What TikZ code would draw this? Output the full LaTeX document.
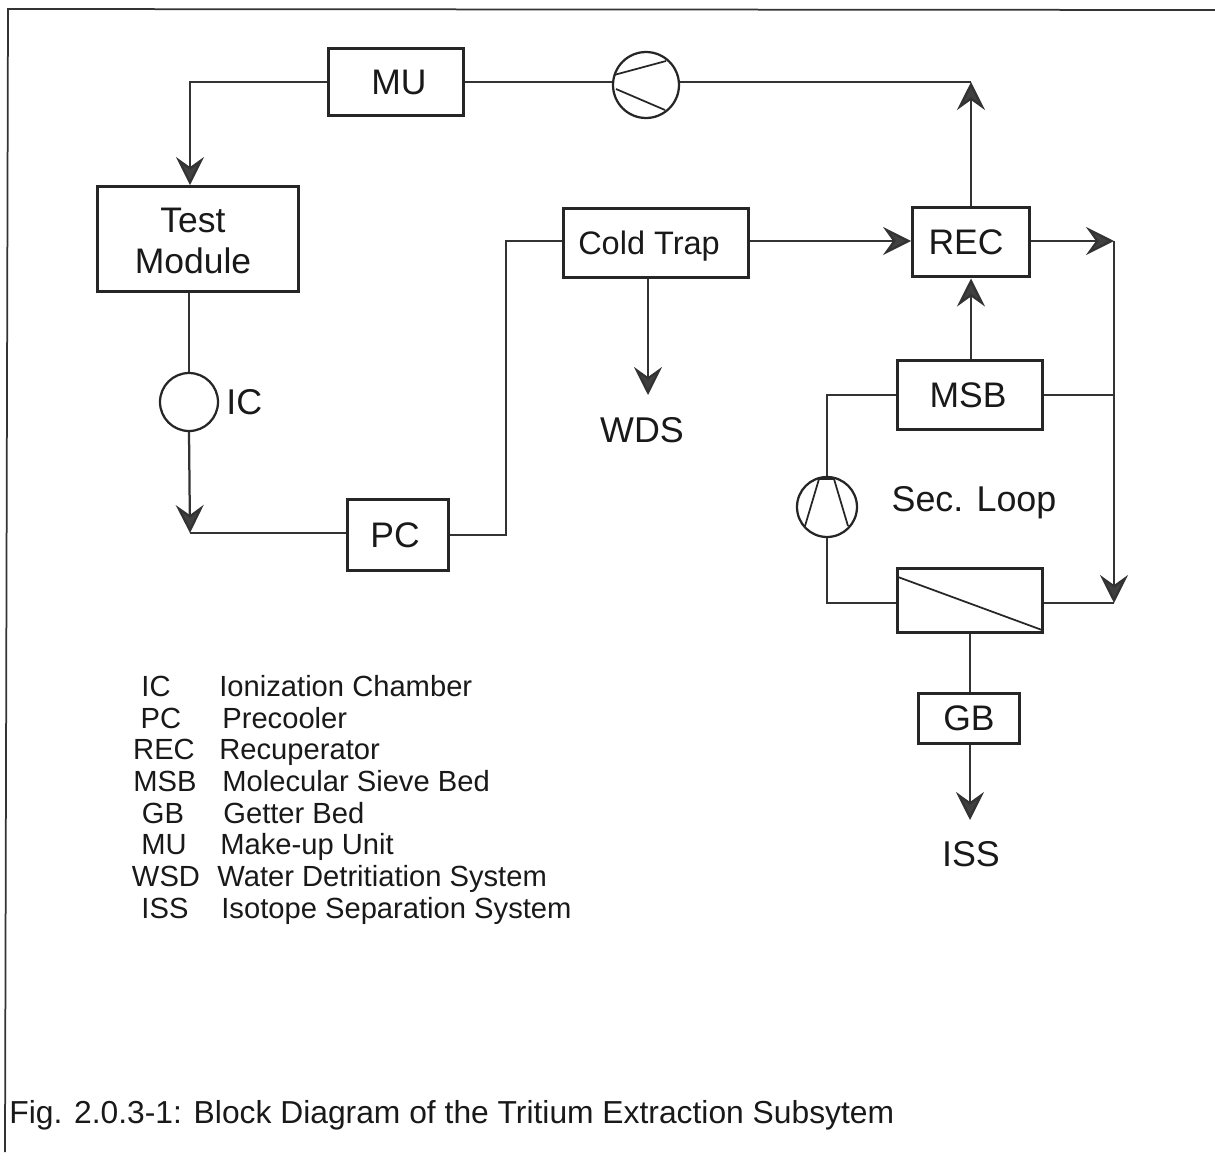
\documentclass[tikz,border=0pt]{standalone}
\usepackage{fontspec}
\setmainfont{Liberation Sans}
\usetikzlibrary{arrows.meta}
\tikzset{
	block/.style={draw=black!85, line width=0.6mm, minimum width=#1, inner sep=0pt},
	boxlbl/.style={align=center, inner sep=0pt, text=black!90, font=\fontsize{20.2}{23.3}\selectfont},
	pipe/.style={draw=black!80, line width=0.45mm},
	flow/.style={pipe, -{Stealth[length=5.6mm, width=5.6mm, inset=2mm, fill=black!75]}},
	disc/.style={circle, draw=black!85, line width=0.45mm, inner sep=0pt},
	stroke/.style={draw=black!85, line width=0.35mm},
	lbl/.style={font=\fontsize{20.4}{24}\selectfont, inner sep=0pt, text=black!90},
	legend/.style={font=\fontsize{16.6}{18}\selectfont, inner sep=0pt, anchor=base west, text=black!90},
	legendkey/.style={font=\fontsize{16.6}{18}\selectfont, inner sep=0pt, anchor=base, text=black!90}
}
\begin{document}
\begin{tikzpicture}[x=0.02cm, y=-0.02cm]
		%%%%% START %%%%%
		\useasboundingbox (0, 0) rectangle (1215, 1160);
		
		% frame
		\coordinate (frameA) at (5, 1152);
		\coordinate (frameB) at (8, 9);
		\coordinate (frameC) at (1215, 10);
		\draw[pipe, line width=0.35mm] (frameA) -- (frameB) -- (frameC);
		
		% blocks
		\node[block=2.72cm, minimum height=1.36cm, label={[boxlbl, xshift=0.06cm]center:MU}] (mu) at (396, 82) {};
		\node[block=4.02cm, minimum height=2.1cm, label={[boxlbl, xshift=-0.1cm, yshift=-0.04cm]center:Test\\Module}] (test) at (198, 239) {};
		\node[block=3.72cm, minimum height=1.4cm, label={[boxlbl, xshift=-0.14cm, yshift=-0.06cm, font=\fontsize{18.5}{22}\selectfont]center:Cold Trap}] (cold) at (656, 243) {};
		\node[block=2.34cm, minimum height=1.4cm, label={[boxlbl, xshift=-0.1cm]center:REC}] (rec) at (971, 242) {};
		\node[block=2.9cm, minimum height=1.4cm, label={[boxlbl, xshift=-0.04cm]center:MSB}] (msb) at (970, 395) {};
		\node[block=2.04cm, minimum height=1.42cm, label={[boxlbl, xshift=-0.06cm]center:PC}] (pc) at (398, 535) {};
		\node[block=2.92cm, minimum height=1.28cm] (mem) at (970, 600) {};
		\node[block=2.04cm, minimum height=1cm, label={[boxlbl]center:GB}] (gb) at (969, 718) {};
		\draw[stroke] (898, 577) -- (1042, 630);
		
		% circles
		\node[disc, minimum size=1.32cm] (comp) at (646, 85) {};
		\node[disc, minimum size=1.16cm] (ic) at (189, 402) {};
		\node[disc, minimum size=1.2cm] (seccomp) at (827, 507) {};
		\draw[stroke] (614, 75) -- (666, 61);
		\draw[stroke] (616, 89) -- (665, 110);
		\draw[stroke] (805, 526) -- (819, 479) -- (834, 479) -- (848, 526);
		
		% free ends
		\coordinate (topleft) at (190, 82);
		\coordinate (topright) at (971, 82);
		\coordinate (icend) at (190, 533);
		\coordinate (pcbend) at (506, 535);
		\coordinate (coldbend) at (506, 241);
		\coordinate (recout) at (1114, 241);
		\coordinate (msbtee) at (1114, 395);
		\coordinate (memend) at (1114, 603);
		\coordinate (msbbend) at (827, 395);
		\coordinate (membend) at (827, 603);
		\coordinate (wdsend) at (648, 395);
		\coordinate (gbend) at (970, 820);
		
		% lines
		\draw[flow] (mu.west |- topleft) -- (topleft) -- (topleft |- test.north);
		\draw[pipe] (mu.east) -- (comp.west |- mu.east);
		\draw[pipe] (comp.east |- topright) -- (topright);
		\draw[flow] (rec.north -| topright) -- (topright);
		\draw[pipe] (ic |- test.south) -- (ic.north);
		\draw[flow] (ic.south) -- (icend);
		\draw[pipe] (icend) -- (pc.west |- icend);
		\draw[pipe] (pc.east |- pcbend) -- (pcbend) -- (coldbend) -- (cold.west |- coldbend);
		\draw[flow] (cold.east |- coldbend) -- (rec.west |- coldbend);
		\draw[flow] (cold.south -| wdsend) -- (wdsend);
		\draw[flow] (rec.east |- recout) -- (recout);
		\draw[flow] (recout) -- (memend);
		\draw[pipe] (msb.east |- msbtee) -- (msbtee);
		\draw[pipe] (mem.east |- memend) -- (memend);
		\draw[flow] (msb.north -| rec) -- (rec.south);
		\draw[pipe] (msb.west |- msbbend) -- (msbbend) -- (seccomp.north);
		\draw[pipe] (seccomp.south) -- (membend) -- (mem.west |- membend);
		\draw[pipe] (mem.south) -- (gb.north -| mem.south);
		\draw[flow] (gb.south -| gbend) -- (gbend);
		
		% labels
		\node[lbl, anchor=west] (iclbl) at (226, 402) {IC};
		\node[lbl] (wds) at (642, 430) {WDS};
		\node[lbl] (seclbl) at (974, 503) {Sec. Loop};
		\node[lbl] (iss) at (971, 854) {ISS};
		
		% legend
		\node[legendkey] (k1) at (156, 696) {IC};
		\node[legend] (t1) at (219, 696) {Ionization Chamber};
		\node[legendkey] (k2) at (161, 728) {PC};
		\node[legend] (t2) at (222, 728) {Precooler};
		\node[legendkey] (k3) at (164, 759) {REC};
		\node[legend] (t3) at (219, 759) {Recuperator};
		\node[legendkey] (k4) at (165, 791) {MSB};
		\node[legend] (t4) at (222, 791) {Molecular Sieve Bed};
		\node[legendkey] (k5) at (163, 823) {GB};
		\node[legend] (t5) at (223, 823) {Getter Bed};
		\node[legendkey] (k6) at (164, 854) {MU};
		\node[legend] (t6) at (220, 854) {Make-up Unit};
		\node[legendkey] (k7) at (166, 886) {WSD};
		\node[legend] (t7) at (217, 886) {Water Detritiation System};
		\node[legendkey] (k8) at (165, 918) {ISS};
		\node[legend] (t8) at (221, 918) {Isotope Separation System};
		
		% caption
		\node[legend, font=\fontsize{18.1}{20}\selectfont] (caption) at (9, 1123) {Fig. 2.0.3-1: Block Diagram of the Tritium Extraction Subsytem};
		
		%%%%% END %%%%%
	\end{tikzpicture}
\end{document}
